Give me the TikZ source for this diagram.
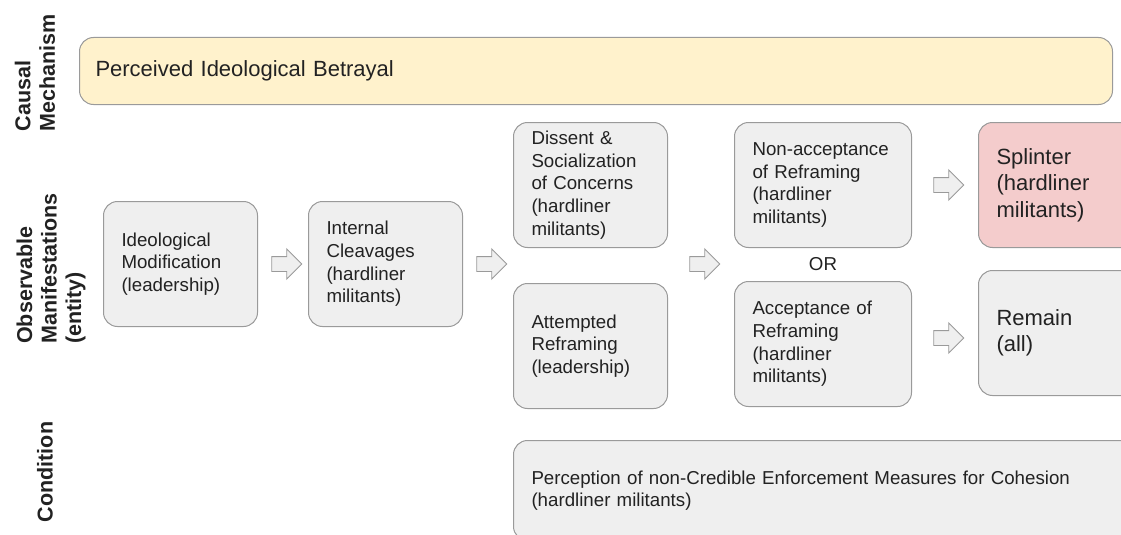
\documentclass[tikz,border=0pt]{standalone}
\usepackage{fontspec}
\setmainfont{Liberation Sans}
\usetikzlibrary{shapes.arrows,calc}
\definecolor{boxfill}{HTML}{EFEFEF}
\definecolor{boxline}{HTML}{9A9A9A}
\definecolor{cmfill}{HTML}{FFF2CC}
\definecolor{splfill}{HTML}{F4CCCC}
\definecolor{txt}{HTML}{222222}
\begin{document}
\begin{tikzpicture}[x=1pt,y=-1pt,
  box/.style={draw=boxline, fill=boxfill, rounded corners=14pt, line width=1pt,
    inner xsep=18pt, inner ysep=0pt, align=left, anchor=north west, text=txt,
    font=\fontsize{18.7}{22.6}\selectfont},
  bigtext/.style={font=\fontsize{22}{26.5}\selectfont},
  sidelabel/.style={rotate=90, align=left, text=txt, font=\fontsize{21.5}{24.5}\selectfont\bfseries, inner sep=0pt},
  blockarrow/.style={single arrow, draw=boxline, fill=boxfill, line width=0.9pt,
    minimum height=30pt, single arrow head extend=7.5pt,
    inner xsep=0pt, inner ysep=7pt}
]
\useasboundingbox (0,0) rectangle (1121,535);
\clip (0,0) rectangle (1121,535);

% side labels
\node[sidelabel] (lcm) at (35,72.5) {Causal\\Mechanism};
\node[sidelabel] (lom) at (51,268.5) {Observable\\Manifestations\\(entity)};
\node[sidelabel] (lc) at (45,472) {Condition};

% causal mechanism
\node[box, fill=cmfill, bigtext, inner xsep=16pt, minimum width=1033pt, minimum height=67pt, text width=1001pt] (cm) at (79,37) {Perceived Ideological Betrayal};

% observable manifestations
\node[box, minimum width=154pt, minimum height=125pt, text width=118pt] (im) at (103,201) {Ideological\\Modification\\(leadership)};
\node[box, minimum width=154pt, minimum height=125pt, text width=118pt] (ic) at (308,201) {Internal\\Cleavages\\(hardliner\\militants)};
\node[box, minimum width=154pt, minimum height=125pt, text width=118pt] (ds) at (513,122) {Dissent \&\\Socialization\\of Concerns\\(hardliner\\militants)};
\node[box, minimum width=154pt, minimum height=125pt, text width=118pt] (ar) at (513,283) {Attempted\\Reframing\\(leadership)};
\node[box, minimum width=177pt, minimum height=125pt, text width=141pt] (na) at (734,122) {Non-acceptance\\of Reframing\\(hardliner\\militants)};
\node[box, minimum width=177pt, minimum height=125pt, text width=141pt] (ac) at (734,281) {Acceptance of\\Reframing\\(hardliner\\militants)};
\node[box, fill=splfill, bigtext, minimum width=160pt, minimum height=125pt, text width=124pt] (sp) at (978,122) {Splinter\\(hardliner\\militants)};
\node[box, bigtext, minimum width=160pt, minimum height=125pt, text width=124pt] (rm) at (978,270) {Remain\\(all)};

\node[text=txt, font=\fontsize{18.7}{22.6}\selectfont, inner sep=0pt] (or) at ($(na.south)!0.5!(ac.north)$) {OR};

% condition
\node[box, minimum width=625pt, minimum height=100pt, text width=589pt] (cd) at (513,440) {Perception of non-Credible Enforcement Measures for Cohesion\\(hardliner militants)};

% block arrows
\node[blockarrow] (a1) at ($(im.east)!0.5!(ic.west)$) {};
\node[blockarrow] (a2) at ($(ic.east)!0.5!(ds.west|-ic.east)$) {};
\node[blockarrow] (a3) at ($(ds.east|-im.east)!0.5!(na.west|-im.east)$) {};
\node[blockarrow] (a4) at ($(na.east)!0.5!(sp.west)$) {};
\node[blockarrow] (a5) at ($(ac.east)!0.5!(rm.west|-ac.east)+(0,-6)$) {};
\end{tikzpicture}
\end{document}
